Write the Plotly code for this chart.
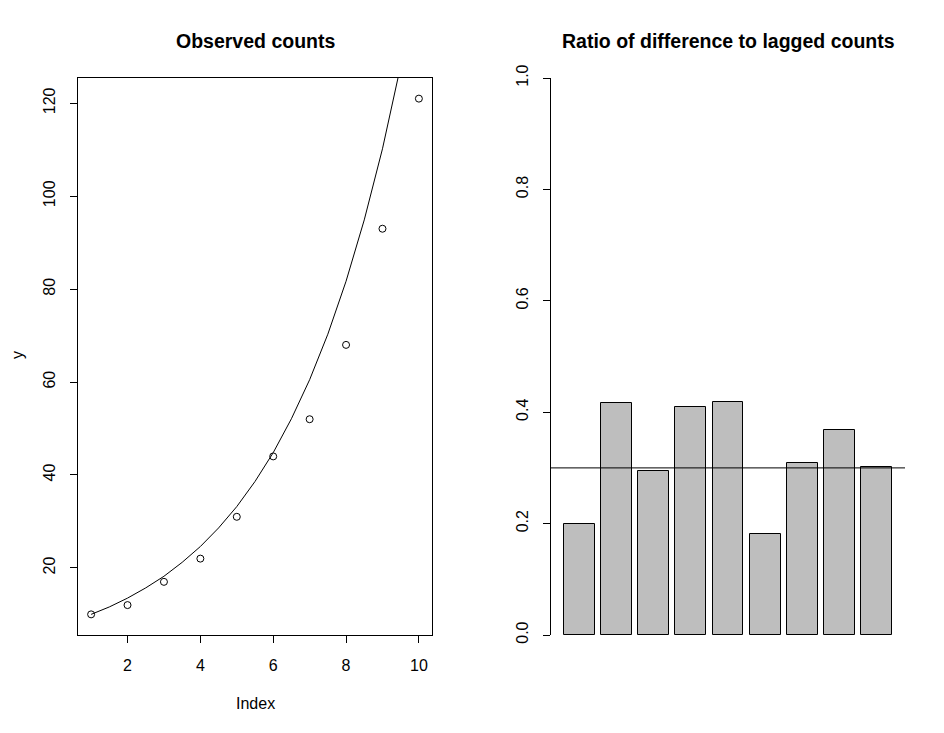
import plotly.graph_objects as go

# Observed counts (left panel)
index = [1, 2, 3, 4, 5, 6, 7, 8, 9, 10]
counts = [10, 12, 17, 22, 31, 44, 52, 68, 93, 121]

# Fitted growth curve
curve_x = [1, 1.5, 2, 2.5, 3, 3.5, 4, 4.5, 5, 5.5, 6, 6.5, 7, 7.5, 8, 8.5, 9, 9.5]
curve_y = [10.0, 11.6, 13.5, 15.7, 18.2, 21.2, 24.6, 28.6, 33.2, 38.6, 44.8,
           52.1, 60.5, 70.3, 81.7, 94.9, 110.2, 128.1]

# Ratio of difference to lagged counts (right panel)
ratio = [0.200, 0.417, 0.294, 0.409, 0.419, 0.182, 0.308, 0.368, 0.301]
ref_level = 0.3

W, H = 944, 733
OFF = 8  # page body margin
def px_x(p): return (p - OFF) / W
def px_y(p): return (H - (p - OFF)) / H

FONT = "Liberation Sans, Arial, sans-serif"

fig = go.Figure()

fig.add_trace(go.Scatter(
    x=curve_x, y=curve_y, mode="lines", line=dict(color="black", width=1),
    xaxis="x", yaxis="y", showlegend=False, hoverinfo="skip"))
fig.add_trace(go.Scatter(
    x=index, y=counts, mode="markers",
    marker=dict(symbol="circle-open", size=7, color="black", line=dict(width=1)),
    xaxis="x", yaxis="y", showlegend=False, cliponaxis=False))

bar_pos = list(range(len(ratio)))
fig.add_trace(go.Bar(
    x=bar_pos, y=ratio, width=1/1.2,
    marker=dict(color="#BEBEBE", line=dict(color="black", width=1)),
    xaxis="x2", yaxis="y2", showlegend=False))

axis_common = dict(showgrid=False, zeroline=False, ticks="outside", ticklen=7,
                   tickcolor="black", tickwidth=1, linecolor="black", linewidth=1,
                   automargin=False, ticklabelstandoff=9,
                   tickfont=dict(family=FONT, size=16, color="black"))

fig.update_layout(
    template="none",
    width=W, height=H, margin=dict(l=0, r=0, t=0, b=0, pad=0), autosize=False,
    plot_bgcolor="white", paper_bgcolor="white",
    font=dict(family=FONT, size=16, color="black"),
    xaxis=dict(domain=[px_x(78), px_x(432)], range=[0.64, 10.36],
               tickvals=[2, 4, 6, 8, 10], showline=True, mirror=True,
               anchor="y", **axis_common),
    yaxis=dict(domain=[px_y(635), px_y(78)], range=[5.56, 125.44],
               tickvals=[20, 40, 60, 80, 100, 120], tickangle=-90,
               showline=True, mirror=True, anchor="x", **axis_common),
    xaxis2=dict(domain=[px_x(551), px_x(905)], range=[-0.77, 8.77],
                showticklabels=False, ticks="", showline=False, showgrid=False,
                zeroline=False, anchor="y2", automargin=False),
    yaxis2=dict(domain=[px_y(635), px_y(78)], range=[0, 1.0],
                tickvals=[0, 0.2, 0.4, 0.6, 0.8, 1.0],
                ticktext=["0.0", "0.2", "0.4", "0.6", "0.8", "1.0"],
                tickangle=-90, showline=True, anchor="x2", **axis_common),
    bargap=0,
)

fig.add_shape(type="line", xref="x2 domain", yref="y2", x0=0, x1=1,
              y0=ref_level, y1=ref_level, line=dict(color="black", width=1))

anns = [
    dict(text="<b>Observed counts</b>", x=px_x(255), y=px_y(41), size=19.5),
    dict(text="<b>Ratio of difference to lagged counts</b>", x=px_x(728), y=px_y(41), size=19.5),
    dict(text="Index", x=px_x(255), y=px_y(703), size=16),
]
for a in anns:
    fig.add_annotation(text=a["text"], x=a["x"], y=a["y"], xref="paper", yref="paper",
                       showarrow=False, xanchor="center", yanchor="middle",
                       font=dict(family=FONT, size=a["size"], color="black"))
fig.add_annotation(text="y", x=px_x(18), y=px_y(355), xref="paper", yref="paper",
                   showarrow=False, xanchor="center", yanchor="middle", textangle=-90,
                   font=dict(family=FONT, size=16, color="black"))

fig.write_html("out.html")
